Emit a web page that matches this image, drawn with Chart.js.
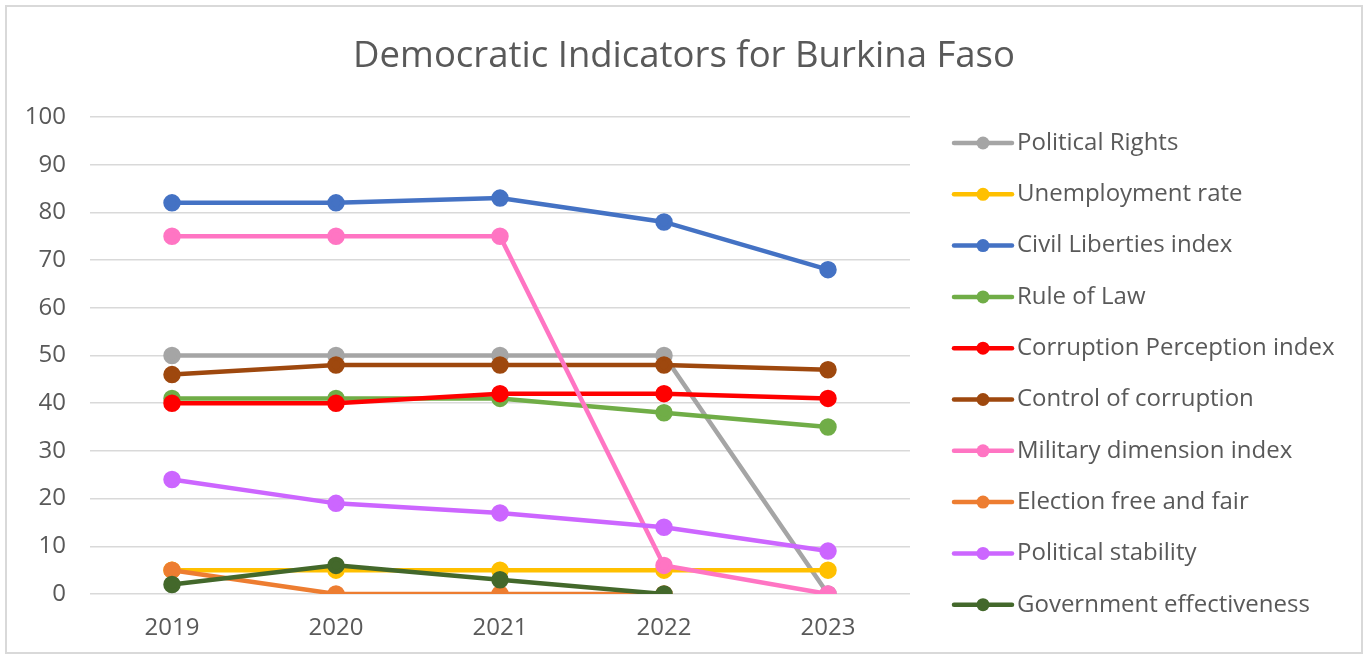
<!DOCTYPE html>
<html>
<head>
<meta charset="utf-8">
<script src="https://cdn.jsdelivr.net/npm/chart.js@4.4.1/dist/chart.umd.min.js"></script>
<style>
html,body{margin:0;padding:0;background:#fff;}
#wrap{width:1368px;height:659px;position:relative;}
</style>
</head>
<body>
<div id="wrap"><canvas id="c" width="1368" height="659"></canvas></div>
<script>
const years = ['2019','2020','2021','2022','2023'];
const yTicks = [0,10,20,30,40,50,60,70,80,90,100];
const seriesNames = ['Political Rights','Unemployment rate','Civil Liberties index','Rule of Law','Corruption Perception index','Control of corruption','Military dimension index','Election free and fair','Political stability','Government effectiveness'];
const politicalRights = [50,50,50,50,0];
const unemploymentRate = [5,5,5,5,5];
const civilLiberties = [82,82,83,78,68];
const ruleOfLaw = [41,41,41,38,35];
const corruptionPerception = [40,40,42,42,41];
const controlOfCorruption = [46,48,48,48,47];
const militaryDimension = [75,75,75,6,0];
const electionFreeFair = [5,0,0,0,null];
const politicalStability = [24,19,17,14,9];
const governmentEffectiveness = [2,6,3,0,null];
const seriesColors = ['#A5A5A5','#FFC000','#4472C4','#70AD47','#FF0000','#9E480E','#FF75C3','#ED7D31','#CC66FF','#43682B'];
const seriesValues = [politicalRights,unemploymentRate,civilLiberties,ruleOfLaw,corruptionPerception,controlOfCorruption,militaryDimension,electionFreeFair,politicalStability,governmentEffectiveness];

const FONT = '"Open Sans", Lato, sans-serif';
const TXT = '#595959';

const datasets = seriesNames.map((n,i)=>({
  label:n,
  data:seriesValues[i],
  borderColor:seriesColors[i],
  backgroundColor:seriesColors[i],
  pointBackgroundColor:seriesColors[i],
  pointBorderColor:seriesColors[i],
  borderWidth:4.5,
  pointRadius:6.5,
  pointHoverRadius:6.5,
  tension:0,
  spanGaps:false,
  order: seriesNames.length - i
}));

const bgPlugin = {
  id:'bg',
  beforeDraw(chart){
    const ctx=chart.ctx;
    ctx.save();
    ctx.fillStyle='#fff';
    ctx.fillRect(0,0,chart.width,chart.height);
    ctx.strokeStyle='#D9D9D9';
    ctx.lineWidth=2;
    ctx.strokeRect(6,6,1356,647);
    ctx.fillStyle=TXT;
    ctx.font='36.5px '+FONT;
    ctx.textAlign='center';
    ctx.textBaseline='middle';
    ctx.fillText('Democratic Indicators for Burkina Faso',684,57);
    ctx.restore();
  }
};

const legendPlugin = {
  id:'customLegend',
  afterDraw(chart){
    const ctx=chart.ctx;
    ctx.save();
    chart.data.datasets.forEach((ds,i)=>{
      const y=143+i*51.3;
      ctx.strokeStyle=ds.borderColor;
      ctx.lineWidth=4.5;
      ctx.lineCap='round';
      ctx.beginPath();ctx.moveTo(954,y);ctx.lineTo(1012,y);ctx.stroke();
      ctx.fillStyle=ds.borderColor;
      ctx.beginPath();ctx.arc(983,y,6.5,0,Math.PI*2);ctx.fill();
      ctx.fillStyle=TXT;
      ctx.font='24px '+FONT;
      ctx.textAlign='left';
      ctx.textBaseline='middle';
      ctx.fillText(ds.label,1017,y);
    });
    ctx.restore();
  }
};

new Chart(document.getElementById('c'),{
  type:'line',
  data:{labels:years,datasets:datasets},
  options:{
    responsive:false,
    animation:false,
    layout:{padding:{left:0,right:458,top:117,bottom:0}},
    plugins:{legend:{display:false},title:{display:false},tooltip:{enabled:false}},
    scales:{
      x:{
        offset:true,
        grid:{display:false,drawTicks:false},
        border:{display:false},
        afterFit(scale){scale.height=65;},
        ticks:{color:TXT,font:{family:FONT,size:24},padding:20}
      },
      y:{
        min:0,max:100,
        afterBuildTicks(scale){scale.ticks=yTicks.map(v=>({value:v}));},
        afterFit(scale){scale.width=90;},
        grid:{color:'#D9D9D9',lineWidth:1.5,drawTicks:false},
        border:{display:false},
        ticks:{color:TXT,font:{family:FONT,size:24},padding:24}
      }
    }
  },
  plugins:[bgPlugin,legendPlugin]
});
</script>
</body>
</html>
